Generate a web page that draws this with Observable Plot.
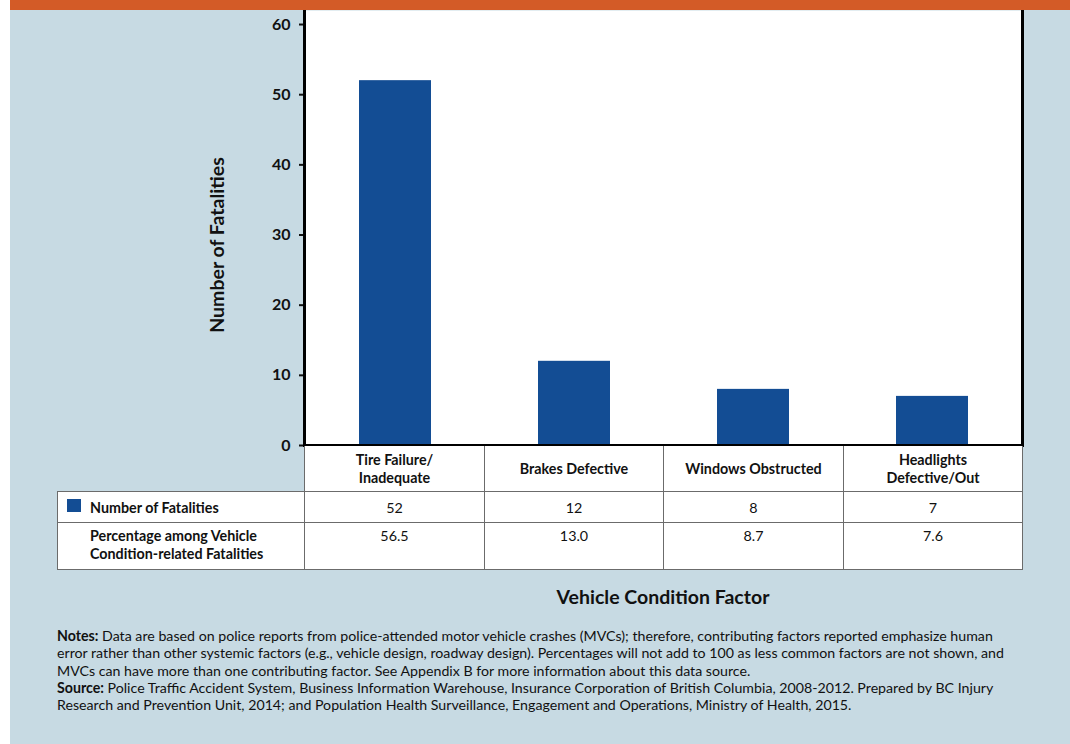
<!DOCTYPE html>
<html><head><meta charset="utf-8">
<script src="https://cdn.jsdelivr.net/npm/d3@7"></script>
<script src="https://cdn.jsdelivr.net/npm/@observablehq/plot@0.6"></script>
<style>
body{margin:0;background:#fff;font-family:Lato,"Open Sans",sans-serif;color:#111;}
#panel{position:absolute;left:10px;top:0;width:1060px;height:744px;background:#c7dae3;}
#band{position:absolute;left:10px;top:0;width:1060px;height:10px;background:#d35b27;z-index:3;}
#chart{position:absolute;left:0;top:0;}
#ytitle{position:absolute;left:216px;top:245px;transform:translate(-50%,-50%) rotate(-90deg);font-weight:bold;font-size:19.5px;white-space:nowrap;}
#tbl{position:absolute;left:57px;top:446px;border-collapse:collapse;font-size:14.3px;table-layout:fixed;}
#tbl td{border:1.5px solid #6b6b6b;background:#fff;text-align:center;padding:0;}
#tbl td.blank{border:none;background:transparent;}
#tbl tr.h td{font-weight:bold;height:45px;line-height:18px;vertical-align:middle;border-top:none;}
#tbl tr.r1 td{height:30px;vertical-align:middle;}
#tbl tr.r2 td{height:42px;vertical-align:top;padding-top:4px;line-height:18px;}
#tbl td.lab{text-align:left;font-weight:bold;padding-left:32px;position:relative;}
.sw{position:absolute;left:9px;top:7px;width:14px;height:13px;background:#134d94;}
#xtitle{position:absolute;left:663px;top:596px;transform:translate(-50%,-50%);font-weight:bold;font-size:19.5px;white-space:nowrap;}
#notes{position:absolute;left:57px;top:627px;font-size:14.2px;line-height:17.3px;white-space:nowrap;}
</style></head>
<body>
<div id="panel"></div>
<div id="band"></div>
<div id="chart"></div>
<div id="ytitle">Number of Fatalities</div>
<table id="tbl"></table>
<div id="xtitle">Vehicle Condition Factor</div>
<div id="notes"><b>Notes:</b> Data are based on police reports from police-attended motor vehicle crashes (MVCs); therefore, contributing factors reported emphasize human<br>error rather than other systemic factors (e.g., vehicle design, roadway design). Percentages will not add to 100 as less common factors are not shown, and<br>MVCs can have more than one contributing factor. See Appendix B for more information about this data source.<br><b>Source:</b> Police Traffic Accident System, Business Information Warehouse, Insurance Corporation of British Columbia, 2008-2012. Prepared by BC Injury<br>Research and Prevention Unit, 2014; and Population Health Surveillance, Engagement and Operations, Ministry of Health, 2015.</div>
<script>
const categories = ["Tire Failure/\nInadequate", "Brakes Defective", "Windows Obstructed", "Headlights\nDefective/Out"];
const fatalities = [52, 12, 8, 7];
const percentages = ["56.5", "13.0", "8.7", "7.6"];
const yTicks = [0, 10, 20, 30, 40, 50, 60];

const data = categories.map((c, i) => ({category: c, value: fatalities[i]}));

const chart = Plot.plot({
  width: 1070,
  height: 460,
  marginTop: 10,
  marginBottom: 15,
  marginLeft: 304,
  marginRight: 48,
  style: {background: "transparent", fontFamily: "Lato, sans-serif", color: "#111"},
  x: {domain: categories, paddingInner: 0.6, paddingOuter: 0.3, axis: null},
  y: {domain: [0, 62], axis: null},
  marks: [
    Plot.frame({fill: "white", stroke: null}),
    Plot.barY(data, {x: "category", y: "value", fill: "#134d94"}),
    Plot.axisY({ticks: yTicks, tickSize: 5, tickPadding: 9, strokeWidth: 2, fontSize: 16, fontWeight: "bold", label: null}),
    Plot.frame({anchor: "left", stroke: "black", strokeWidth: 3}),
    Plot.frame({anchor: "right", stroke: "black", strokeWidth: 3}),
    Plot.ruleY([0], {stroke: "black", strokeWidth: 3})
  ]
});
document.getElementById("chart").appendChild(chart);

const tbl = document.getElementById("tbl");
const widths = [247, 180, 179, 180, 179];
const cg = document.createElement("colgroup");
widths.forEach(w => { const c = document.createElement("col"); c.style.width = w + "px"; cg.appendChild(c); });
tbl.appendChild(cg);
let html = '<tr class="h"><td class="blank"></td>' + categories.map(c => `<td>${c.replace("\n", "<br>")}</td>`).join("") + "</tr>";
html += '<tr class="r1"><td class="lab"><span class="sw"></span>Number of Fatalities</td>' + fatalities.map(v => `<td>${v}</td>`).join("") + "</tr>";
html += '<tr class="r2"><td class="lab">Percentage among Vehicle<br>Condition-related Fatalities</td>' + percentages.map(v => `<td>${v}</td>`).join("") + "</tr>";
tbl.insertAdjacentHTML("beforeend", html);
</script>
</body></html>
